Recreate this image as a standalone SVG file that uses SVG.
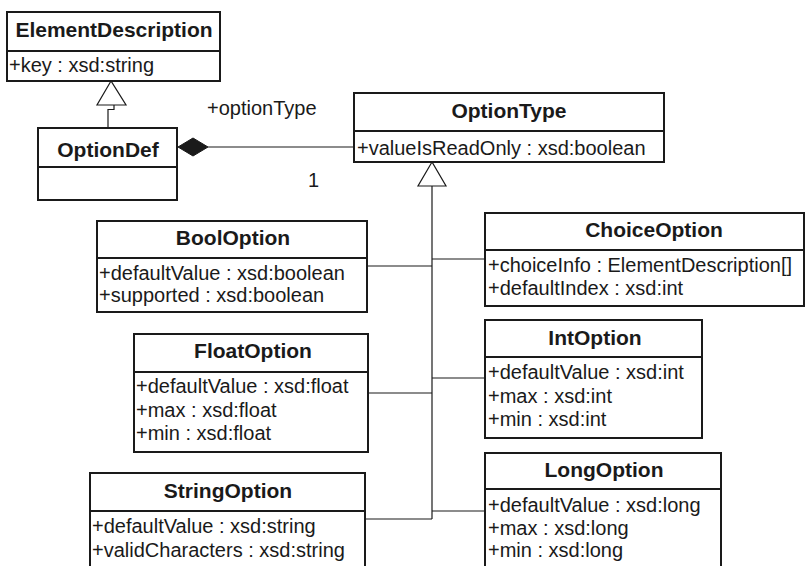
<svg xmlns="http://www.w3.org/2000/svg" width="805" height="566" viewBox="0 0 805 566">
<style>
.box{fill:#fff;stroke:#1a1a1a;stroke-width:2}
.div{stroke:#1a1a1a;stroke-width:2}
.t{font-family:"Liberation Sans",Arial,sans-serif;font-weight:bold;font-size:21px;fill:#1a1a1a;text-anchor:middle}
.a{font-family:"Liberation Sans",Arial,sans-serif;font-size:20px;fill:#1a1a1a}
.c{fill:none;stroke:#1a1a1a;stroke-width:1.2}
.tri{fill:#fff;stroke:#1a1a1a;stroke-width:1.2}
.dia{fill:#1a1a1a;stroke:#1a1a1a;stroke-width:1}
</style>
<rect width="805" height="566" fill="#fff"/>
<g id="connectors">
  <polygon class="tri" points="111,81 97,105 126,105"/>
  <path class="c" d="M114,105 V109.5 H108 V128"/>
  <polygon class="dia" points="178,147 193,138 208,147 193,156"/>
  <path class="c" d="M208,147 H354"/>
  <text class="a" x="207" y="115">+optionType</text>
  <text class="a" x="308" y="187">1</text>
  <polygon class="tri" points="432,162 418,186 446,186"/>
  <path class="c" d="M432,186 V519"/>
  <path class="c" d="M367,266 H432"/>
  <path class="c" d="M432,259 H485"/>
  <path class="c" d="M368,393 H432"/>
  <path class="c" d="M432,378 H485"/>
  <path class="c" d="M365,519 H432"/>
  <path class="c" d="M432,511 H485"/>
</g>
<g id="ElementDescription">
  <rect class="box" x="7" y="12" width="213" height="69"/>
  <line class="div" x1="7" y1="51" x2="220" y2="51"/>
  <text class="t" x="114" y="37">ElementDescription</text>
  <text class="a" x="9" y="72">+key : xsd:string</text>
</g>
<g id="OptionDef">
  <rect class="box" x="38" y="128" width="139" height="72"/>
  <line class="div" x1="38" y1="167" x2="177" y2="167"/>
  <text class="t" x="108" y="157">OptionDef</text>
</g>
<g id="OptionType">
  <rect class="box" x="354" y="93" width="310" height="69"/>
  <line class="div" x1="354" y1="131" x2="664" y2="131"/>
  <text class="t" x="509" y="118">OptionType</text>
  <text class="a" x="357" y="155">+valueIsReadOnly : xsd:boolean</text>
</g>
<g id="BoolOption">
  <rect class="box" x="97" y="221" width="270" height="91"/>
  <line class="div" x1="97" y1="258" x2="367" y2="258"/>
  <text class="t" x="233" y="245">BoolOption</text>
  <text class="a" x="99" y="280">+defaultValue : xsd:boolean</text>
  <text class="a" x="99" y="302">+supported : xsd:boolean</text>
</g>
<g id="ChoiceOption">
  <rect class="box" x="485" y="213" width="330" height="93"/>
  <line class="div" x1="485" y1="250" x2="815" y2="250"/>
  <line class="div" x1="804" y1="213" x2="804" y2="306"/>
  <text class="t" x="654" y="237">ChoiceOption</text>
  <text class="a" x="488" y="272">+choiceInfo : ElementDescription[]</text>
  <text class="a" x="488" y="295">+defaultIndex : xsd:int</text>
</g>
<g id="FloatOption">
  <rect class="box" x="134" y="334" width="234" height="118"/>
  <line class="div" x1="134" y1="372" x2="368" y2="372"/>
  <text class="t" x="253" y="358">FloatOption</text>
  <text class="a" x="136" y="393">+defaultValue : xsd:float</text>
  <text class="a" x="136" y="417">+max : xsd:float</text>
  <text class="a" x="136" y="440">+min : xsd:float</text>
</g>
<g id="IntOption">
  <rect class="box" x="485" y="320" width="217" height="118"/>
  <line class="div" x1="485" y1="357" x2="702" y2="357"/>
  <text class="t" x="595" y="345">IntOption</text>
  <text class="a" x="488" y="379">+defaultValue : xsd:int</text>
  <text class="a" x="488" y="403">+max : xsd:int</text>
  <text class="a" x="488" y="426">+min : xsd:int</text>
</g>
<g id="StringOption">
  <rect class="box" x="90" y="473" width="275" height="100"/>
  <line class="div" x1="90" y1="511" x2="365" y2="511"/>
  <text class="t" x="228" y="498">StringOption</text>
  <text class="a" x="92" y="533">+defaultValue : xsd:string</text>
  <text class="a" x="92" y="557">+validCharacters : xsd:string</text>
</g>
<g id="LongOption">
  <rect class="box" x="485" y="453" width="236" height="120"/>
  <line class="div" x1="485" y1="489" x2="721" y2="489"/>
  <text class="t" x="604" y="477">LongOption</text>
  <text class="a" x="488" y="512">+defaultValue : xsd:long</text>
  <text class="a" x="488" y="535">+max : xsd:long</text>
  <text class="a" x="488" y="557">+min : xsd:long</text>
</g>
</svg>
